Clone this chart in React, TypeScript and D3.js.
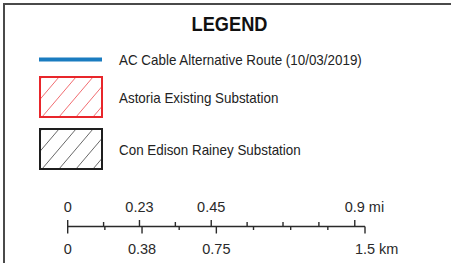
import React, { useEffect, useRef } from 'react';
import * as d3 from 'd3';

// legend entries
const legendLabels = [
    'AC Cable Alternative Route (10/03/2019)',
    'Astoria Existing Substation',
    'Con Edison Rainey Substation',
];
const legendKinds = ['line', 'hatch', 'hatch'];
const legendColors = ['#1a7cc0', '#e8262b', '#1e1e1e'];

// scale bar (km is the base unit, miles are converted)
const KM_PER_MI = 1.609344;
const mileTicks = [0, 0.1125, 0.225, 0.3375, 0.45, 0.5625, 0.675, 0.7875, 0.9];
const mileLabels = ['0', '', '0.23', '', '0.45', '', '', '', '0.9'];
const kmTicks = [0, 0.1875, 0.375, 0.5625, 0.75, 0.9375, 1.125, 1.3125, 1.5];
const kmLabels = ['0', '', '0.38', '', '0.75', '', '', '', '1.5'];

const W = 451;
const H = 263;
const STRETCH = 1.15; // legend text is taller than it is wide in the source

export default function App() {
    const svgRef = useRef<SVGSVGElement>(null);

    useEffect(() => {
        if (!svgRef.current) return;
        const svg = d3.select(svgRef.current);
        svg.selectAll('*').remove();

        svg.append('rect').attr('width', W).attr('height', H).attr('fill', '#fff');

        // frame
        svg.append('rect')
            .attr('x', 4).attr('y', 4)
            .attr('width', W + 10).attr('height', H + 10)
            .attr('fill', 'none')
            .attr('stroke', '#4a4a4a')
            .attr('stroke-width', 2);

        // title
        svg.append('text')
            .attr('transform', `translate(229.5,30.7) scale(1,${STRETCH})`)
            .attr('text-anchor', 'middle')
            .style('font-family', '"Liberation Sans", Arial, sans-serif')
            .style('font-weight', 'bold')
            .style('font-size', '18.2px')
            .attr('fill', '#111')
            .text('LEGEND');

        // legend rows
        const rowY = d3.scaleOrdinal<number, number>().domain([0, 1, 2]).range([59.5, 97, 149]);
        const boxX = 40;
        const boxW = 62;
        const boxH = 40;
        const defs = svg.append('defs');

        legendLabels.forEach((label, i) => {
            const cy = rowY(i);
            const color = legendColors[i];
            if (legendKinds[i] === 'line') {
                svg.append('line')
                    .attr('x1', 39).attr('x2', 102)
                    .attr('y1', cy).attr('y2', cy)
                    .attr('stroke', color)
                    .attr('stroke-width', 4);
            } else {
                const y0 = cy - boxH / 2;
                defs.append('clipPath').attr('id', `clip${i}`)
                    .append('rect')
                    .attr('x', boxX).attr('y', y0)
                    .attr('width', boxW).attr('height', boxH);
                const hatch = svg.append('g').attr('clip-path', `url(#clip${i})`);
                d3.range(-3, 6).forEach(k => {
                    const xb = boxX + k * 17 + 2;
                    hatch.append('line')
                        .attr('x1', xb).attr('y1', y0 + boxH)
                        .attr('x2', xb + 34).attr('y2', y0)
                        .attr('stroke', color)
                        .attr('stroke-opacity', 0.75)
                        .attr('stroke-width', 0.9);
                });
                svg.append('rect')
                    .attr('x', boxX).attr('y', y0)
                    .attr('width', boxW).attr('height', boxH)
                    .attr('fill', 'none')
                    .attr('stroke', color)
                    .attr('stroke-width', 2);
            }
            svg.append('text')
                .attr('transform', `translate(119,${cy + 5.6}) scale(1,${STRETCH})`)
                .style('font-family', '"Liberation Sans", Arial, sans-serif')
                .style('font-size', '13.4px')
                .attr('fill', '#222')
                .text(label);
        });

        // scale bar
        const x = d3.scaleLinear().domain([0, 1.5]).range([67.7, 365]);
        const lineY = 226.5;
        const bar = svg.append('g').attr('stroke', '#2a2a2a').attr('stroke-width', 1.4);
        bar.append('line').attr('x1', x(0)).attr('x2', x(1.5)).attr('y1', lineY).attr('y2', lineY);
        bar.append('line').attr('x1', x(0)).attr('x2', x(0)).attr('y1', 220).attr('y2', 233.5);

        mileTicks.forEach((m, i) => {
            if (i === 0) return;
            const xm = x(m * KM_PER_MI);
            bar.append('line')
                .attr('x1', xm).attr('x2', xm)
                .attr('y1', lineY - (mileLabels[i] ? 6.5 : 4.5)).attr('y2', lineY);
        });
        kmTicks.forEach((k, i) => {
            if (i === 0) return;
            const xk = x(k);
            bar.append('line')
                .attr('x1', xk).attr('x2', xk)
                .attr('y1', lineY).attr('y2', lineY + (kmLabels[i] ? 7 : 3.5));
        });

        const labelFont = (sel: d3.Selection<SVGTextElement, unknown, null, undefined>) =>
            sel.style('font-family', '"Liberation Sans", Arial, sans-serif')
                .style('font-size', '14.5px')
                .attr('fill', '#2a2a2a');

        mileTicks.forEach((m, i) => {
            if (!mileLabels[i]) return;
            const xm = x(m * KM_PER_MI);
            const last = i === mileTicks.length - 1;
            const t = svg.append('text').attr('y', 211.5).call(labelFont).text(mileLabels[i]);
            const w = (t.node() as SVGTextElement).getComputedTextLength();
            t.attr('x', xm - w / 2);
            if (last) t.text(`${mileLabels[i]} mi`);
        });
        kmTicks.forEach((k, i) => {
            if (!kmLabels[i]) return;
            const xk = x(k);
            const last = i === kmTicks.length - 1;
            const t = svg.append('text').attr('y', 254).call(labelFont).text(kmLabels[i]);
            const w = (t.node() as SVGTextElement).getComputedTextLength();
            t.attr('x', xk - w / 2);
            if (last) t.text(`${kmLabels[i]} km`);
        });
    }, []);

    return (
        <svg
            ref={svgRef}
            width={W}
            height={H}
            viewBox={`0 0 ${W} ${H}`}
            style={{ position: 'fixed', left: 0, top: 0 }}
        />
    );
}
